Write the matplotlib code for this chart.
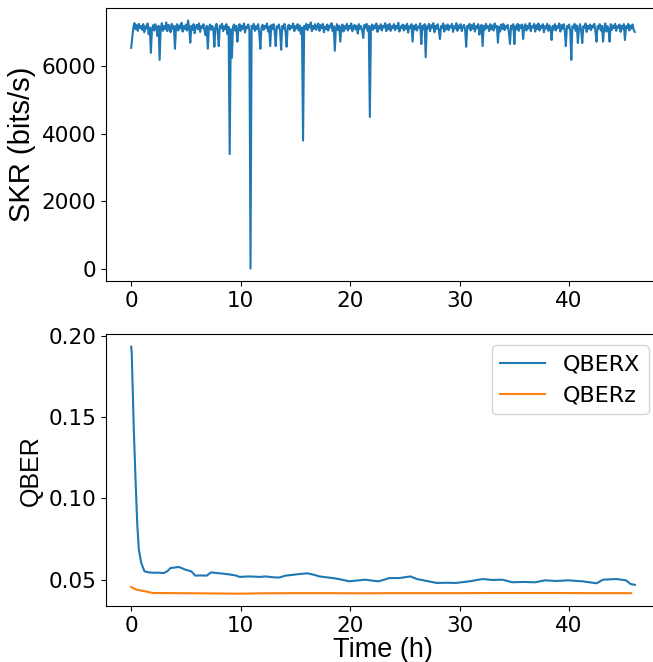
""" SKR and QBER over a 46 h run """
import numpy as np
import matplotlib.pyplot as plt


skr_step = 0.1
skr = [
    6550, 6850, 7150, 7280, 7100, 7220, 7050, 7260, 7130, 7200,
    7080, 7250, 7010, 7190, 7120, 7270, 6950, 7150, 6400, 7100,
    7220, 7060, 7250, 7130, 6900, 7200, 6190, 7120, 7280, 7050,
    7190, 7100, 7300, 7040, 7230, 7150, 7010, 7260, 7110, 7200,
    6520, 7180, 7250, 7060, 7210, 7120, 7290, 7030, 7190, 7100,
    7240, 7060, 7360, 7150, 6700, 7200, 7080, 7250, 6980, 7170,
    7230, 7100, 7270, 7020, 7190, 7140, 7250, 7060, 6920, 7200,
    6520, 7150, 7240, 7080, 7200, 7110, 6580, 7180, 7260, 7050,
    6600, 7210, 7130, 7260, 7040, 7190, 7100, 7250, 6950, 7170,
    3400, 7100, 6250, 7180, 7240, 7060, 7200, 6730, 7120, 7250,
    7050, 7200, 7110, 7270, 7000, 7180, 7130, 7240, 7060, 10,
    7200, 7120, 7260, 7050, 7190, 7100, 7250, 6980, 6520, 7150,
    7230, 7080, 7200, 7140, 7270, 7030, 7180, 6600, 7220, 7100,
    7250, 7060, 6600, 7190, 7130, 7240, 7050, 6490, 7200, 7110,
    7260, 7020, 6580, 7180, 7230, 7090, 7200, 7140, 7270, 7040,
    7190, 7120, 7250, 7060, 7210, 6960, 7150, 3800, 7200, 7100,
    7260, 7070, 7230, 7150, 7300, 7040, 7200, 7110, 7250, 7080,
    7190, 7270, 7050, 7220, 7130, 7260, 7010, 7180, 7100, 7240,
    7060, 7210, 7150, 7280, 7040, 7190, 6460, 7130, 7250, 7070,
    7200, 6730, 7160, 7240, 7030, 7190, 7110, 7260, 7060, 7200,
    7120, 7270, 7040, 7180, 7230, 7090, 7200, 6970, 7250, 7110,
    7190, 7060, 6840, 7230, 7140, 7260, 7050, 7200, 4500, 7150,
    7240, 7080, 7210, 7130, 7270, 7020, 7190, 7110, 7250, 7060,
    7200, 7150, 7280, 7040, 7220, 7100, 7260, 7050, 7190, 7130,
    7250, 7070, 7200, 7120, 7290, 7030, 7180, 7140, 7240, 7060,
    7210, 7110, 7260, 7000, 7190, 7130, 7250, 6730, 7200, 7090,
    7240, 7060, 7180, 7150, 7270, 6660, 7200, 7100, 7250, 6270,
    7190, 7120, 7260, 7040, 7220, 7140, 7280, 7010, 7200, 7110,
    7250, 7060, 6810, 7190, 7130, 7270, 7030, 7210, 7100, 7240,
    7070, 7200, 7150, 7260, 7020, 7190, 7120, 7280, 7050, 7210,
    7130, 7250, 7040, 7180, 7230, 7090, 6580, 7200, 7140, 7260,
    7060, 7220, 7110, 7270, 7030, 7190, 7140, 7250, 6940, 7180,
    7230, 6600, 7200, 7080, 7260, 7130, 7190, 7040, 7250, 7100,
    7210, 7060, 7270, 7140, 7200, 6700, 7180, 7030, 7240, 7110,
    7260, 7070, 7190, 7140, 7230, 7000, 6660, 7210, 7120, 7250,
    6660, 7190, 7100, 7260, 7050, 7220, 7130, 7240, 6810, 7180,
    7250, 7060, 7200, 7120, 7280, 7040, 7190, 7150, 7260, 7030,
    7220, 7100, 7270, 7060, 7200, 7140, 7250, 7010, 7190, 7120,
    7260, 7050, 7210, 7130, 6780, 7200, 7090, 7250, 7060, 7190,
    7140, 7270, 7030, 7220, 7110, 7250, 7060, 6600, 7200, 7130,
    7240, 7080, 6190, 7190, 7140, 7260, 7050, 7210, 6690, 7120,
    7250, 7060, 6690, 7190, 7130, 7270, 7020, 7200, 7110, 7240,
    7070, 7210, 7150, 7260, 7040, 6730, 7190, 7120, 7250, 7060,
    7200, 6730, 7140, 7270, 7030, 7190, 7110, 6730, 7250, 7080,
    7210, 7130, 7260, 7050, 7190, 7140, 7240, 7020, 7200, 7110,
    7250, 6780, 7190, 7130, 7260, 7060, 7210, 7120, 7240, 7080,
    7020,
]
t_skr = skr_step*np.arange(len(skr))

# QBER in the X basis
t_qx = [0.0, 0.05, 0.24, 0.4, 0.55, 0.7, 0.92, 1.22, 1.6, 2.0, 2.5,
        2.97, 3.3, 3.6, 4.0, 4.33, 4.6, 4.93, 5.5, 5.85, 6.3, 6.9,
        7.3, 7.8, 8.4, 9.0, 9.6, 9.9, 10.7, 11.2, 11.7, 12.3, 12.9,
        13.5, 14.1, 14.8, 15.4, 16.1, 16.7, 17.2, 17.8, 18.4, 19.1,
        19.9, 20.8, 21.4, 21.8, 22.6, 23.1, 23.6, 24.5, 25.0, 25.5,
        26.1, 27.0, 27.9, 28.8, 29.7, 30.3, 30.9, 31.5, 32.1, 33.0,
        33.9, 34.8, 35.8, 36.9, 37.8, 38.8, 39.9, 41.2, 42.5, 43.1,
        43.7, 44.3, 45.2, 45.6, 46.0]
qber_x = [0.1935, 0.1900, 0.1425, 0.1116, 0.0850, 0.0685, 0.0603, 0.0551,
          0.0545, 0.0543, 0.0543, 0.0541, 0.0552, 0.0572, 0.0575, 0.0578,
          0.0572, 0.0562, 0.0551, 0.0525, 0.0526, 0.0525, 0.0545, 0.0541,
          0.0537, 0.0532, 0.0525, 0.0517, 0.0520, 0.0519, 0.0517, 0.0520,
          0.0515, 0.0513, 0.0525, 0.0530, 0.0535, 0.0539, 0.0530, 0.0520,
          0.0515, 0.0510, 0.0502, 0.0490, 0.0496, 0.0500, 0.0496, 0.0490,
          0.0500, 0.0510, 0.0510, 0.0515, 0.0520, 0.0504, 0.0492, 0.0480,
          0.0481, 0.0480, 0.0485, 0.0490, 0.0497, 0.0504, 0.0498, 0.0500,
          0.0484, 0.0486, 0.0484, 0.0496, 0.0492, 0.0496, 0.0490, 0.0478,
          0.0500, 0.0502, 0.0504, 0.0496, 0.0474, 0.0468]

# QBER in the Z basis
t_qz = [0.0, 0.5, 1.0, 1.5, 2.0, 4.0, 6.0, 8.0, 10.0, 12.0, 15.0, 18.0,
        21.0, 24.0, 27.0, 30.0, 33.0, 36.0, 39.0, 42.0, 45.67]
qber_z = [0.0455, 0.0438, 0.0432, 0.0425, 0.0418, 0.0417, 0.0416, 0.0415,
          0.0414, 0.0416, 0.0417, 0.0417, 0.0416, 0.0417, 0.0417, 0.0417,
          0.0418, 0.0418, 0.0418, 0.0417, 0.0417]


fig = plt.figure(figsize=(6.53, 6.62), dpi=100)
ax1 = fig.add_axes([0.1623, 0.5755, 0.8484, 0.4124])
ax2 = fig.add_axes([0.1623, 0.0846, 0.8484, 0.4104])

ax1.plot(t_skr, skr, color='tab:blue')
ax1.set_ylabel('SKR (bits/s)', family='Liberation Sans', fontsize=21)
ax1.set_yticks([0, 2000, 4000, 6000])

ax2.plot(t_qx, qber_x, color='tab:blue', label='QBERX')
ax2.plot(t_qz, qber_z, color='tab:orange', label='QBERz')
ax2.set_ylabel('QBER', family='Liberation Sans', fontsize=18)
ax2.set_xlabel('Time (h)', family='Liberation Sans', fontsize=19.5,
               labelpad=1)
ax2.set_yticks([0.05, 0.10, 0.15, 0.20])
ax2.legend(loc='upper right', fontsize=16)

for ax in (ax1, ax2):
    ax.set_xticks([0, 10, 20, 30, 40])
    ax.tick_params(labelsize=15.5)

fig.savefig('out.png', dpi=100)
